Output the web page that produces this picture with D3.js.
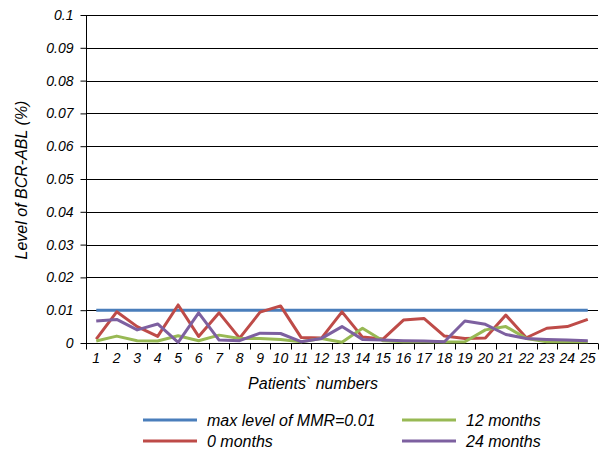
<!DOCTYPE html>
<html>
<head>
<meta charset="utf-8">
<script src="https://cdn.jsdelivr.net/npm/d3@7"></script>
<style>
body { margin: 0; background: #fff; }
text { font-family: "Liberation Sans Narrow", "Liberation Sans", Arial, sans-serif; font-style: italic; }
</style>
</head>
<body>
<script>
var w = 600;
var h = 453;

// data
var patients = d3.range(1, 26);
var mmr = patients.map(function() { return 0.01; });
var months0 = [0.0012, 0.0095, 0.005, 0.002, 0.0116, 0.002, 0.0092, 0.0015, 0.0094, 0.0113,
               0.0017, 0.0015, 0.0095, 0.0018, 0.0012, 0.007, 0.0075, 0.0021, 0.0014, 0.0015,
               0.0085, 0.0016, 0.0045, 0.005, 0.0072];
var months12 = [0.0006, 0.0021, 0.0007, 0.0006, 0.0022, 0.0007, 0.0024, 0.0014, 0.0014, 0.0011,
                0.0004, 0.0014, 0.0002, 0.0045, 0.0007, 0.0004, 0.0004, 0.0003, 0.0004, 0.004,
                0.005, 0.0014, 0.0004, 0.0004, 0.0004];
var months24 = [0.0067, 0.0072, 0.004, 0.0058, 0.0002, 0.0092, 0.0009, 0.0007, 0.003, 0.0029,
                0.0004, 0.0014, 0.005, 0.0011, 0.0009, 0.0007, 0.0006, 0.0004, 0.0067, 0.0057,
                0.0026, 0.0014, 0.0011, 0.0009, 0.0007];
var yTicks = [0, 0.01, 0.02, 0.03, 0.04, 0.05, 0.06, 0.07, 0.08, 0.09, 0.1];

var series = [
    {name: "max level of MMR=0.01", values: mmr, color: "#4a7ebb"},
    {name: "0 months", values: months0, color: "#be4b48"},
    {name: "12 months", values: months12, color: "#98b954"},
    {name: "24 months", values: months24, color: "#7d60a0"}
];

var plotLeft = 86, plotRight = 598, plotTop = 15, plotBottom = 343;

var xScale = d3.scaleBand()
    .domain(patients)
    .range([plotLeft, plotRight]);

var yScale = d3.scaleLinear()
    .domain([0, 0.1])
    .range([plotBottom, plotTop]);

var svg = d3.select("body")
    .append("svg")
    .attr("width", w)
    .attr("height", h);

// gridlines
svg.append("g")
    .selectAll("line")
    .data(yTicks)
    .enter()
    .append("line")
    .attr("x1", plotLeft)
    .attr("x2", plotRight)
    .attr("y1", function(d) { return Math.round(yScale(d)) + 0.5; })
    .attr("y2", function(d) { return Math.round(yScale(d)) + 0.5; })
    .attr("stroke", "#000")
    .attr("stroke-width", 1);

// y axis
var yAxis = d3.axisLeft(yScale)
    .tickValues(yTicks)
    .tickSize(6)
    .tickPadding(7)
    .tickFormat(function(d) { return String(+d.toFixed(2)); });

svg.append("g")
    .attr("class", "y axis")
    .attr("transform", "translate(" + (plotLeft + 0.5) + ",0)")
    .call(yAxis)
    .call(function(g) {
        g.select(".domain").remove();
        g.selectAll("text").attr("font-size", "14px").attr("fill", "#000");
    });

svg.append("line")
    .attr("x1", plotLeft + 0.5).attr("x2", plotLeft + 0.5)
    .attr("y1", plotTop).attr("y2", plotBottom)
    .attr("stroke", "#000");

// x axis with ticks on band edges
var xg = svg.append("g")
    .attr("class", "x axis")
    .attr("transform", "translate(0," + (Math.round(plotBottom) + 0.5) + ")");

xg.selectAll("line")
    .data(d3.range(0, 26))
    .enter()
    .append("line")
    .attr("x1", function(i) { return Math.round(plotLeft + i * xScale.bandwidth()) + 0.5; })
    .attr("x2", function(i) { return Math.round(plotLeft + i * xScale.bandwidth()) + 0.5; })
    .attr("y1", 0)
    .attr("y2", 6)
    .attr("stroke", "#000");

xg.selectAll("text")
    .data(patients)
    .enter()
    .append("text")
    .attr("x", function(d) { return xScale(d) + xScale.bandwidth() / 2; })
    .attr("y", 19)
    .attr("text-anchor", "middle")
    .attr("font-size", "14px")
    .text(function(d) { return d; });

// lines
var line = d3.line()
    .x(function(d, i) { return xScale(patients[i]) + xScale.bandwidth() / 2; })
    .y(function(d) { return yScale(d); });

svg.append("g")
    .selectAll("path")
    .data(series)
    .enter()
    .append("path")
    .attr("d", function(s) { return line(s.values); })
    .attr("fill", "none")
    .attr("stroke", function(s) { return s.color; })
    .attr("stroke-width", 3)
    .attr("stroke-linejoin", "round");

// axis titles
svg.append("text")
    .attr("x", 313)
    .attr("y", 389)
    .attr("text-anchor", "middle")
    .attr("font-size", "16px")
    .text("Patients` numbers");

svg.append("text")
    .attr("transform", "translate(27,180) rotate(-90)")
    .attr("text-anchor", "middle")
    .attr("font-size", "16px")
    .text("Level of BCR-ABL (%)");

// legend
var legendPos = [[143, 420], [143, 441], [402, 420], [402, 441]];
var legend = svg.append("g")
    .selectAll("g")
    .data(series)
    .enter()
    .append("g")
    .attr("transform", function(d, i) { return "translate(" + legendPos[i][0] + "," + legendPos[i][1] + ")"; });

legend.append("line")
    .attr("x1", 0).attr("x2", 54)
    .attr("y1", 0).attr("y2", 0)
    .attr("stroke", function(d) { return d.color; })
    .attr("stroke-width", 3);

legend.append("text")
    .attr("x", 64)
    .attr("y", 6)
    .attr("font-size", "16px")
    .text(function(d) { return d.name; });
</script>
</body>
</html>
